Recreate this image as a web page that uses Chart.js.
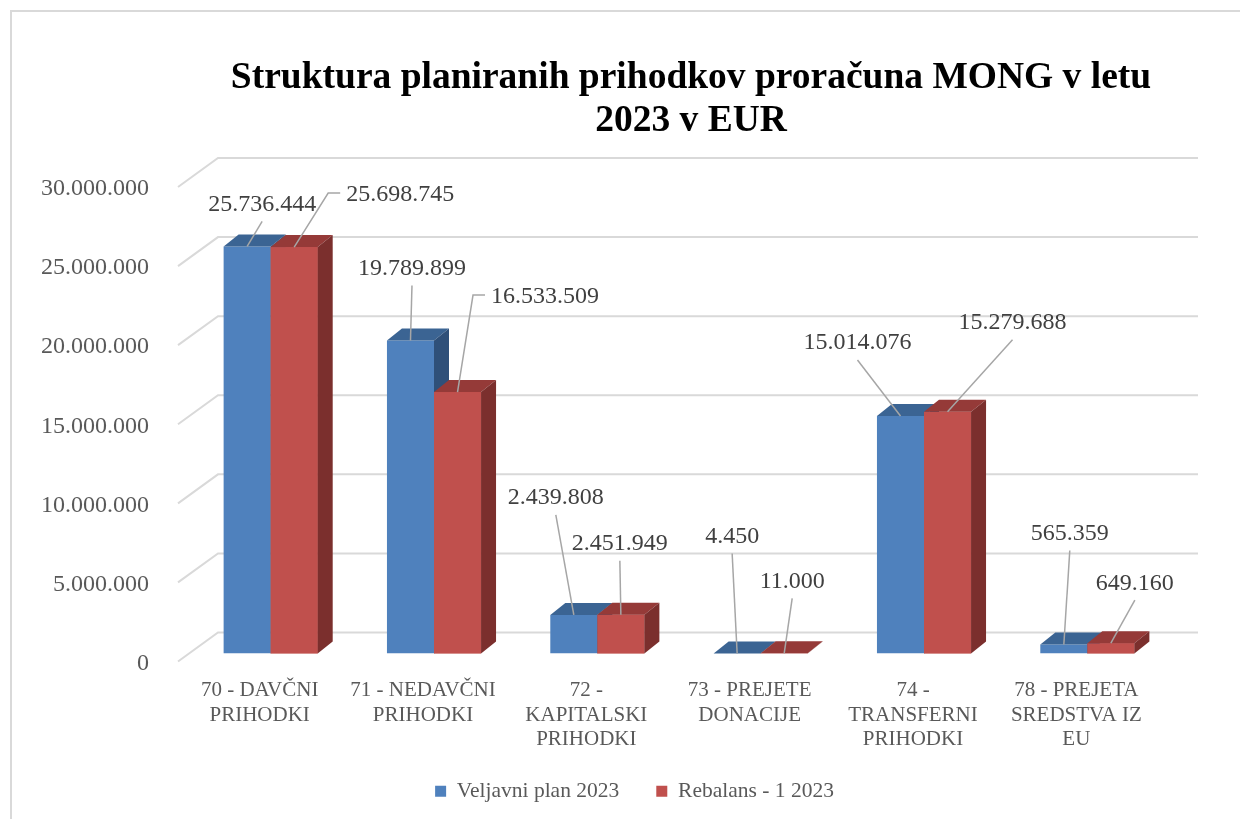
<!DOCTYPE html>
<html>
<head>
  <meta charset="utf-8">
  <title>Struktura planiranih prihodkov proračuna MONG 2023</title>
  <script src="https://cdn.jsdelivr.net/npm/chart.js"></script>
  <style>
    body {
        margin: 0;
        background-color: white;
        overflow: hidden;
    }

    #frame {
        position: absolute;
        left: 10px;
        top: 10px;
        width: 1300px;
        height: 900px;
        border: 2px solid #d9d9d9;
    }

    #myChart {
        position: absolute;
        left: 0;
        top: 0;
    }
  </style>
</head>
<body>

    <div id="frame"></div>
    <canvas id="myChart" width="1240" height="819"></canvas>

    <script>
        const categories = [
            ['70 - DAVČNI', 'PRIHODKI'],
            ['71 - NEDAVČNI', 'PRIHODKI'],
            ['72 -', 'KAPITALSKI', 'PRIHODKI'],
            ['73 - PREJETE', 'DONACIJE'],
            ['74 -', 'TRANSFERNI', 'PRIHODKI'],
            ['78 - PREJETA', 'SREDSTVA IZ', 'EU']
        ];
        const seriesNames = ['Veljavni plan 2023', 'Rebalans - 1 2023'];
        const planValues = [25736444, 19789899, 2439808, 4450, 15014076, 565359];
        const rebalansValues = [25698745, 16533509, 2451949, 11000, 15279688, 649160];
        const titleLines = ['Struktura planiranih prihodkov proračuna MONG v letu', '2023 v EUR'];

        // value labels were dragged around by hand in the original, so keep their shift from the bar top
        const labelShift = [
            [[15, -42], [1.5, -72], [-18, -117], [-5, -117], [-43, -73], [6, -111]],
            [[106, -52], [87.5, -95], [-1, -71], [8, -72], [65, -89], [24, -60]]
        ];
        const elbowLabel = [
            [false, false, false, false, false, false],
            [true, true, false, false, false, false]
        ];

        const fronts = ['#4f81bd', '#c0504d'];
        const tops = ['#3b6493', '#953a38'];
        const sides = ['#2f5079', '#7b2f2d'];
        const DX = 15, DY = 12;   // bar depth

        const fmt = v => String(v).replace(/\B(?=(\d{3})+(?!\d))/g, '.');

        function poly(ctx, color, pts) {
            ctx.fillStyle = color;
            ctx.beginPath();
            ctx.moveTo(pts[0][0], pts[0][1]);
            for (let k = 1; k < pts.length; k++) ctx.lineTo(pts[k][0], pts[k][1]);
            ctx.closePath();
            ctx.fill();
        }

        // back wall + floor grid lines
        const wall = {
            id: 'wall',
            beforeDatasetsDraw(chart) {
                const { ctx, chartArea: a, scales: { y } } = chart;
                ctx.save();
                ctx.strokeStyle = '#d9d9d9';
                ctx.lineWidth = 2;
                y.ticks.forEach(t => {
                    const py = y.getPixelForValue(t.value);
                    ctx.beginPath();
                    ctx.moveTo(a.left - 11, py + 8);
                    ctx.lineTo(a.left + 29, py - 21);
                    ctx.lineTo(a.right + 29, py - 21);
                    ctx.stroke();
                });
                ctx.restore();
            }
        };

        // top and side faces of the bars
        const faces = {
            id: 'faces',
            afterDatasetsDraw(chart) {
                const ctx = chart.ctx;
                ctx.save();
                chart.data.labels.forEach((c, i) => {
                    [0, 1].forEach(d => {
                        const b = chart.getDatasetMeta(d).data[i];
                        const l = b.x - b.width / 2, r = b.x + b.width / 2;
                        if (d === 1) {
                            ctx.fillStyle = fronts[d];
                            ctx.fillRect(l, b.y, r - l, b.base - b.y);
                        }
                        poly(ctx, tops[d], [[l, b.y], [r, b.y], [r + DX, b.y - DY], [l + DX, b.y - DY]]);
                        poly(ctx, sides[d], [[r, b.y], [r + DX, b.y - DY], [r + DX, b.base - DY], [r, b.base]]);
                    });
                });
                ctx.restore();
            }
        };

        const valueLabels = {
            id: 'valueLabels',
            afterDatasetsDraw(chart) {
                const ctx = chart.ctx;
                ctx.save();
                ctx.font = '24px "Liberation Serif"';
                ctx.textAlign = 'center';
                ctx.textBaseline = 'middle';
                chart.data.datasets.forEach((ds, d) => {
                    chart.getDatasetMeta(d).data.forEach((b, i) => {
                        const tx = b.x + labelShift[d][i][0];
                        const ty = b.y + labelShift[d][i][1];
                        const txt = fmt(ds.data[i]);
                        ctx.strokeStyle = '#a6a6a6';
                        ctx.lineWidth = 1.5;
                        ctx.beginPath();
                        ctx.moveTo(b.x, b.y);
                        if (elbowLabel[d][i]) {
                            const lx = tx - ctx.measureText(txt).width / 2 - 6;
                            ctx.lineTo(lx - 12, ty - 2);
                            ctx.lineTo(lx, ty - 2);
                        } else {
                            ctx.lineTo(tx, ty + 17);
                        }
                        ctx.stroke();
                        ctx.fillStyle = '#404040';
                        ctx.fillText(txt, tx, ty);
                    });
                });
                ctx.restore();
            }
        };

        // title and legend are not centred on the same x in the original, nudge them
        const nudge = {
            id: 'nudge',
            afterLayout(chart) {
                chart.titleBlock.left += 12;
                chart.titleBlock.right += 12;
                chart.legend.left += 50;
                chart.legend.right += 50;
                chart.legend.top -= 7;
                chart.legend.bottom -= 7;
            }
        };

        const ctx = document.getElementById('myChart').getContext('2d');
        const myChart = new Chart(ctx, {
            type: 'bar',
            data: {
                labels: categories,
                datasets: [
                    { label: seriesNames[0], data: planValues, backgroundColor: fronts[0] },
                    { label: seriesNames[1], data: rebalansValues, backgroundColor: fronts[1] }
                ]
            },
            options: {
                responsive: false,
                animation: false,
                categoryPercentage: 0.576,
                barPercentage: 1,
                layout: { padding: { left: 0, right: 71, top: 0, bottom: 0 } },
                plugins: {
                    title: {
                        display: true,
                        fullSize: false,
                        text: titleLines,
                        color: '#000000',
                        font: { family: 'Liberation Serif', size: 37.5, weight: 'bold', lineHeight: 1.147 },
                        padding: { top: 57, bottom: 36 }
                    },
                    legend: {
                        position: 'bottom',
                        labels: {
                            boxWidth: 11,
                            boxHeight: 11,
                            padding: 37,
                            color: '#595959',
                            font: { family: 'Liberation Serif', size: 21.5 }
                        }
                    },
                    tooltip: { enabled: false }
                },
                scales: {
                    x: {
                        grid: { display: false },
                        border: { display: false },
                        ticks: {
                            color: '#595959',
                            font: { family: 'Liberation Serif', size: 21, lineHeight: 1.19 },
                            padding: 16,
                            labelOffset: -11,
                            maxRotation: 0,
                            autoSkip: false
                        },
                        afterFit: s => { s.height = 97; }
                    },
                    y: {
                        min: 0,
                        max: 30000000,
                        grid: { display: false },
                        border: { display: false },
                        ticks: {
                            stepSize: 5000000,
                            color: '#595959',
                            font: { family: 'Liberation Serif', size: 24 },
                            padding: 32,
                            labelOffset: 10,
                            callback: v => fmt(v)
                        },
                        afterFit: s => { s.width = 189; }
                    }
                }
            },
            plugins: [wall, faces, valueLabels, nudge]
        });
    </script>

</body>
</html>
